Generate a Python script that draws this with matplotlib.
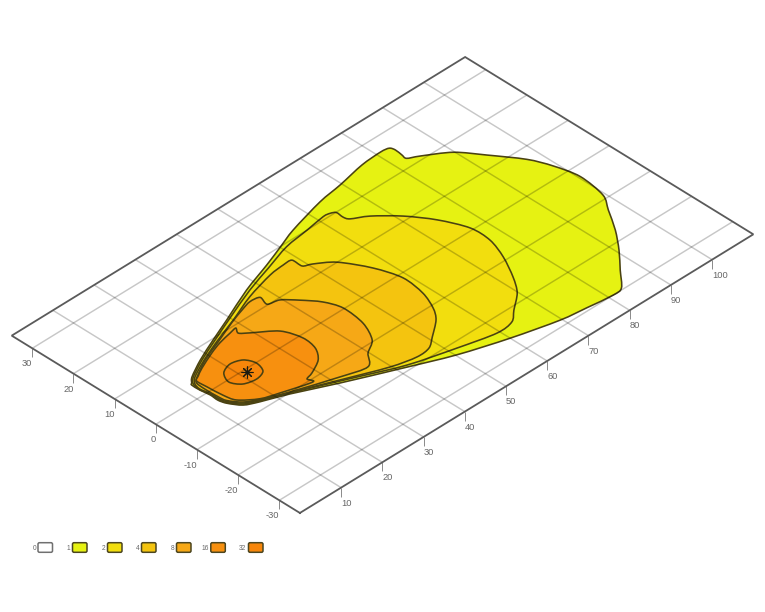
import numpy as np
import matplotlib
matplotlib.use("Agg")
import matplotlib.pyplot as plt
from matplotlib.path import Path
from matplotlib.patches import PathPatch, FancyBboxPatch
from matplotlib.transforms import Affine2D
from matplotlib.markers import TICKDOWN

plt.rcParams['font.family'] = ['Liberation Sans', 'DejaVu Sans']

x_range = (0, 110)
y_range = (-35, 35)
x_ticks = [10, 20, 30, 40, 50, 60, 70, 80, 90, 100]
y_ticks = [-30, -20, -10, 0, 10, 20, 30]

level_labels = ['0', '1', '2', '4', '8', '16', '32']
level_colors = ['#ffffff', '#e6f212', '#f2de0e', '#f4c40f', '#f6a816', '#f7900f', '#f7860a']

source_xy = (21.3, -0.8)

level1 = [(12.5,3.8),(13.8,5.0),(18.1,7.3),(23.6,9.7),(29.2,12.0),(37.5,15.5),(44.9,18.0),(50.1,19.9),(55.0,21.7),
          (63.8,24.0),(69.6,24.9),(76.2,26.2),(81.0,26.5),(82.8,26.2),(83.2,25.1),(83.0,23.3),(82.9,22.1),(85.0,20.9),
          (89.8,17.6),(93.3,13.0),(97.3,7.3),(99.2,2.8),(100.4,-2.6),(99.5,-9.0),(97.2,-12.6),(94.1,-17.4),(90.6,-21.8),
          (86.8,-25.9),(83.4,-29.6),(81.0,-30.0),(75.3,-29.3),(69.6,-28.5),(60.0,-26.0),(50.2,-22.8),
          (41.1,-18.9),(30.5,-14.2),(22.3,-10.3),(17.1,-8.2),(14.4,-6.8),(12.8,-4.5),(12.3,-2.8),(12.4,-0.8),(12.1,1.4),(12.1,3.4)]
level2 = [(12.5,3.4),(13.9,4.8),(18.3,7.1),(23.7,9.4),(30.0,12.0),(37.9,15.1),(44.5,17.2),(50.9,19.2),(56.7,20.0),
          (61.3,20.7),(62.8,20.5),(63.7,19.9),(63.6,18.2),(64.1,17.0),(67.1,15.1),(71.1,11.1),(74.5,6.2),(76.9,0.6),(76.9,-4.2),
          (75.2,-9.1),(72.4,-14.3),(69.8,-17.9),(66.0,-20.9),(63.4,-23.0),(59.4,-23.4),(51.6,-21.5),
          (42.2,-18.8),(33.8,-15.1),(22.5,-10.1),(17.3,-8.0),(14.6,-6.6),(12.9,-4.3),(12.5,-2.6),(12.6,-0.6),(12.2,1.5)]
level4 = [(12.7,3.2),(14.1,4.6),(18.5,6.8),(23.9,9.0),(30.0,11.2),(36.6,13.8),(43.3,15.6),(46.9,16.0),(48.9,15.9),
          (49.0,13.5),(50.7,12.6),(54.0,10.0),(57.2,4.5),(58.9,-1.1),(58.3,-6.5),(56.6,-10.7),(54.6,-13.4),(50.8,-16.3),(48.2,-18.1),
          (45.0,-18.4),(39.7,-17.1),(31.1,-13.6),(22.6,-10.0),(17.5,-7.8),(14.8,-6.4),(13.1,-4.1),(12.7,-2.4),(12.7,-0.5),(12.3,1.6)]
level8 = [(13.1,3.2),(14.3,4.3),(18.7,6.7),(23.8,8.7),(29.4,10.9),(33.0,12.1),(35.6,12.8),(37.7,12.4),(37.2,10.2),(39.6,9.5),
          (42.0,7.0),(44.4,3.9),(45.7,0.2),(45.1,-5.2),(42.9,-9.6),(39.8,-11.7),(37.1,-14.4),(31.7,-13.0),(22.7,-9.9),(17.6,-7.7),
          (15.0,-6.2),(13.3,-3.9),(13.0,-2.1),(12.9,1.0)]
level16 = [(13.5,3.6),(14.7,4.4),(16.7,5.5),(20.9,7.3),(23.8,8.3),(27.0,9.0),(28.7,9.3),(28.0,8.0),(29.5,6.6),(33.5,3.3),
           (34.9,-0.8),(34.4,-4.3),(32.4,-7.0),(29.1,-8.8),(27.3,-9.4),(27.4,-10.7),(21.3,-8.9),(17.7,-7.6),
           (14.6,-5.0),(13.9,-2.4),(13.6,1.2)]
level32 = [(18.4,1.9),(20.9,2.9),(23.3,2.1),(24.3,-0.1),(23.5,-2.5),(21.2,-3.3),(18.5,-2.6),(17.2,-0.5)]

contours = [level1, level2, level4, level8, level16, level32]


def smooth_closed(points, t=0.9):
    p = np.asarray(points, float)
    n = len(p)
    verts = [p[0]]
    codes = [Path.MOVETO]
    for i in range(n):
        p0, p1, p2, p3 = p[i - 1], p[i], p[(i + 1) % n], p[(i + 2) % n]
        verts += [p1 + (p2 - p0) * t / 6, p2 - (p3 - p1) * t / 6, p2]
        codes += [Path.CURVE4] * 3
    verts.append(p[0])
    codes.append(Path.CLOSEPOLY)
    return Path(np.array(verts), codes)


fig = plt.figure(figsize=(7.65, 6.12), dpi=100)
ax = fig.add_axes([0, 0, 1, 1])
ax.set_xlim(0, 765)
ax.set_ylim(612, 0)
ax.axis('off')

# oblique map view: ground coordinates (x, y) onto the page
ground = Affine2D(np.array([[4.122, -4.117, 155.8],
                            [-2.533, -2.533, 424.3],
                            [0, 0, 1]])) + ax.transData

for pts, col in zip(contours, level_colors[1:]):
    ax.add_patch(PathPatch(smooth_closed(pts), facecolor=col, edgecolor='#4a4212',
                           lw=1.15, transform=ground, zorder=2, joinstyle='round'))

grid_kw = dict(color='black', alpha=0.22, lw=1.05, transform=ground, zorder=3, solid_capstyle='butt')
for xv in x_ticks:
    ax.plot([xv, xv], y_range, **grid_kw)
for yv in y_ticks:
    ax.plot(x_range, [yv, yv], **grid_kw)

ax.plot(*source_xy, marker=(8, 2, 0), ms=8.5, mew=0.8, color='#1a1a10', transform=ground, zorder=5)

fx = [x_range[0], x_range[1], x_range[1], x_range[0], x_range[0]]
fy = [y_range[0], y_range[0], y_range[1], y_range[1], y_range[0]]
ax.plot(fx, fy, color='#5a5a5a', lw=1.3, transform=ground, zorder=4, solid_joinstyle='miter')

tick_kw = dict(marker=TICKDOWN, ms=6.5, mew=0.7, color='#8a8a8a', transform=ground, zorder=3, ls='none')
text_kw = dict(textcoords='offset pixels', va='center', fontsize=6.7, color='#666666',
               xycoords=ground, annotation_clip=False)
for xv in x_ticks:
    ax.plot([xv], [y_range[0]], **tick_kw)
    ax.annotate(str(xv), (xv, y_range[0]), xytext=(0, -15.4), ha='left', **text_kw)
for yv in y_ticks:
    ax.plot([x_range[0]], [yv], **tick_kw)
    ax.annotate(str(yv), (x_range[0], yv), xytext=(0, -15.4), ha='right', **text_kw)

swatch_left = [37.5, 72, 107, 141, 176, 210.3, 248]
for left, lab, col in zip(swatch_left, level_labels, level_colors):
    edge = '#707070' if lab == '0' else '#4c4620'
    ax.add_patch(FancyBboxPatch((left + 0.5, 542.7), 14.5, 9.6, boxstyle='round,pad=0,rounding_size=1.5',
                                facecolor=col, edgecolor=edge, lw=1.1, zorder=3))
    ax.text(left - 1.5, 548, lab, ha='right', va='center', fontsize=4.8, color='#666666')

fig.savefig('out.png', dpi=100, facecolor='white')
